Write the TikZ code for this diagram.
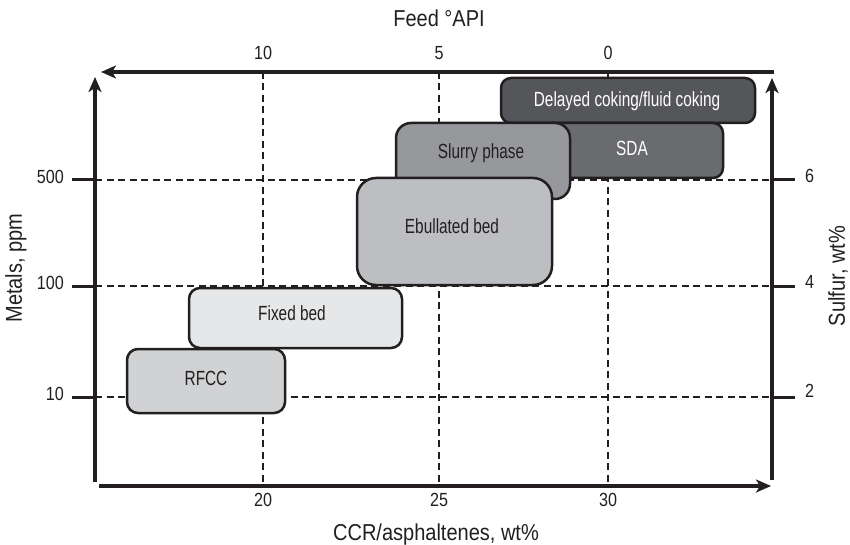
\documentclass[tikz,border=0pt]{standalone}
\usepackage{fontspec}
\setmainfont{Liberation Sans}[FakeStretch=0.87]
\newfontfamily\condf{Liberation Sans}[FakeStretch=0.75]
\newfontfamily\tickf{Liberation Sans}[FakeStretch=0.85]
\usetikzlibrary{arrows.meta}
\definecolor{ink}{HTML}{231F20}
\definecolor{cDelayed}{HTML}{555659}
\definecolor{cSDA}{HTML}{6A6B6E}
\definecolor{cSlurry}{HTML}{97989B}
\definecolor{cEbul}{HTML}{BDBEC1}
\definecolor{cFixed}{HTML}{E6E7E8}
\definecolor{cRFCC}{HTML}{D1D2D4}
\tikzset{
  axisline/.style={line width=4pt, draw=ink},
  axisarrow/.style={axisline, -{Stealth[length=15pt,width=13pt,inset=4pt]}},
  tickline/.style={line width=3pt, draw=ink},
  gridline/.style={line width=2pt, draw=ink, dash pattern=on 7pt off 4.5pt},
  procbox/.style={draw=ink, line width=2.5pt, rectangle, inner sep=0pt},
  boxtext/.style={inner sep=0pt, text height=0.72em, text depth=0pt, font=\condf\fontsize{20.5}{24}\selectfont},
  ticklbl/.style={inner sep=0pt, text height=0.72em, text depth=0pt, text=ink, font=\tickf\fontsize{19}{22}\selectfont},
  axistitle/.style={inner sep=0pt, text=ink, font=\fontsize{23}{27}\selectfont},
}
\begin{document}
\begin{tikzpicture}[x=1pt,y=-1pt]
\useasboundingbox (0,0) rectangle (850,545);
% frame coordinates
\coordinate (lb) at (95,482);
\coordinate (lt) at (95,77);
\coordinate (tr) at (774,72);
\coordinate (tl) at (101,72);
\coordinate (rb) at (772,480);
\coordinate (rt) at (772,78);
\coordinate (bl) at (99,486);
\coordinate (br) at (771,486);
% grid
\foreach \x/\n in {263/a,439/b,608/c}{
  \coordinate (gt\n) at (\x,72);
  \coordinate (gb\n) at (\x,486);
  \draw[gridline] (gt\n) -- (gb\n);
}
\foreach \y/\n in {180/a,286/b,397/c}{
  \coordinate (gl\n) at (95,\y);
  \coordinate (gr\n) at (772,\y);
  \draw[gridline] (gl\n) -- (gr\n);
}
% ticks
\foreach \y/\n in {180/a,286/b,397/c}{
  \coordinate (tl\n) at (72,\y);
  \coordinate (tla\n) at (95,\y);
  \draw[tickline] (tl\n) -- (tla\n);
  \coordinate (tr\n) at (772,\y);
  \coordinate (tra\n) at (795,\y);
  \draw[tickline] (tr\n) -- (tra\n);
}
% axes
\draw[axisarrow] (lb) -- (lt);
\draw[axisarrow] (tr) -- (tl);
\draw[axisarrow] (rb) -- (rt);
\draw[axisarrow] (bl) -- (br);
% boxes
\node[procbox, fill=cDelayed, minimum width=254pt, minimum height=45pt, rounded corners=10pt] (delayed) at (628,100.5) {};
\node[boxtext, text=white] (delayedlbl) at (627,102.5) {Delayed coking/fluid coking};
\node[procbox, fill=cSDA, minimum width=182pt, minimum height=55pt, rounded corners=10pt] (sda) at (632,150.5) {};
\node[boxtext, text=white] (sdalbl) at (632,152) {SDA};
\node[procbox, fill=cSlurry, minimum width=174pt, minimum height=76pt, rounded corners=15pt] (slurry) at (483,161) {};
\node[boxtext, text=ink] (slurrylbl) at (481,155) {Slurry phase};
\node[procbox, fill=cEbul, minimum width=195pt, minimum height=107pt, rounded corners=19pt] (ebul) at (454.5,231.5) {};
\node[boxtext, text=ink] (ebullbl) at (452,230) {Ebullated bed};
\node[procbox, fill=cFixed, minimum width=213pt, minimum height=60pt, rounded corners=11pt] (fixed) at (295.5,318) {};
\node[boxtext, text=ink] (fixedlbl) at (292,316.5) {Fixed bed};
\node[procbox, fill=cRFCC, minimum width=158pt, minimum height=64pt, rounded corners=11pt] (rfcc) at (206,381) {};
\node[boxtext, text=ink] (rfcclbl) at (206,382) {RFCC};
% tick labels
\node[ticklbl, anchor=east] (m500) at (64,180) {500};
\node[ticklbl, anchor=east] (m100) at (64,286) {100};
\node[ticklbl, anchor=east] (m10) at (64,397) {10};
\node[ticklbl, anchor=west] (s6) at (805,179) {6};
\node[ticklbl, anchor=west] (s4) at (805,285) {4};
\node[ticklbl, anchor=west] (s2) at (805,394) {2};
\node[ticklbl] (c20) at (263,503) {20};
\node[ticklbl] (c25) at (439,503) {25};
\node[ticklbl] (c30) at (608,503) {30};
\node[ticklbl] (a10) at (263,56) {10};
\node[ticklbl] (a5) at (439,56) {5};
\node[ticklbl] (a0) at (608,56) {0};
% axis titles
\node[axistitle, anchor=base] (feed) at (439,27) {Feed °API};
\node[axistitle, anchor=base] (ccr) at (436,540) {CCR/asphaltenes, wt\%};
\node[axistitle, rotate=90] (metals) at (16,268) {Metals, ppm};
\node[axistitle, rotate=90] (sulfur) at (838,276) {Sulfur, wt\%};
\end{tikzpicture}
\end{document}
